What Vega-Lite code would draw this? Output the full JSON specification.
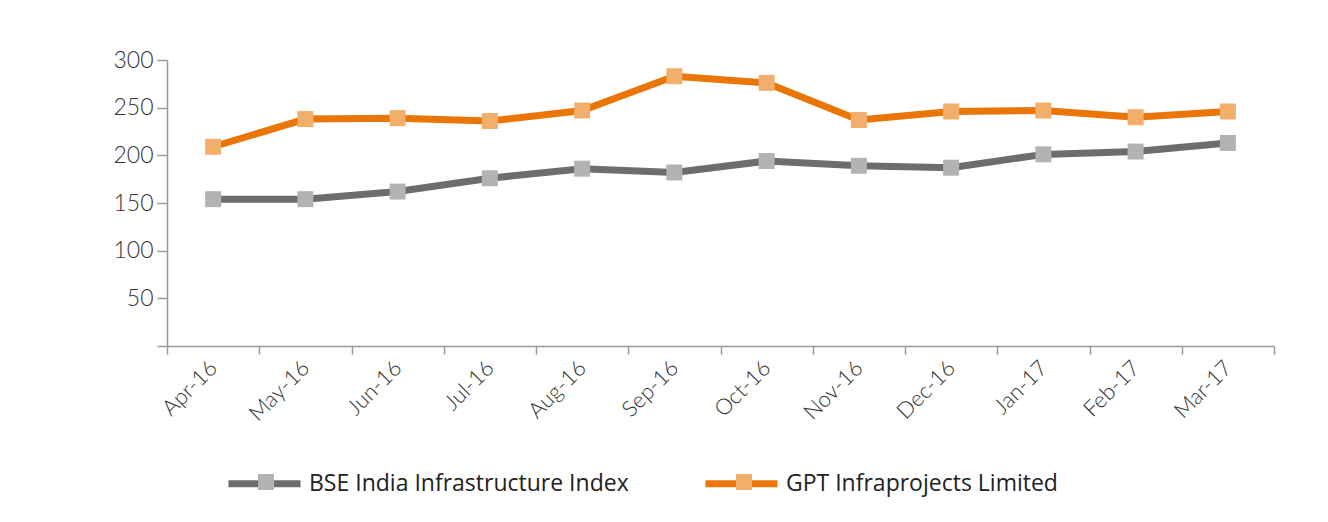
{
  "$schema": "https://vega.github.io/schema/vega-lite/v6.json",
  "width": 1107,
  "height": 286,
  "autosize": {"type": "none"},
  "padding": {"left": 167, "top": 60, "right": 54, "bottom": 176},
  "background": "white",
  "config": {"view": {"stroke": null}},
  "data": {
    "values": [
      {"month": "Apr-16", "series": "BSE India Infrastructure Index", "value": 154},
      {"month": "May-16", "series": "BSE India Infrastructure Index", "value": 154},
      {"month": "Jun-16", "series": "BSE India Infrastructure Index", "value": 162},
      {"month": "Jul-16", "series": "BSE India Infrastructure Index", "value": 176},
      {"month": "Aug-16", "series": "BSE India Infrastructure Index", "value": 186},
      {"month": "Sep-16", "series": "BSE India Infrastructure Index", "value": 182},
      {"month": "Oct-16", "series": "BSE India Infrastructure Index", "value": 194},
      {"month": "Nov-16", "series": "BSE India Infrastructure Index", "value": 189},
      {"month": "Dec-16", "series": "BSE India Infrastructure Index", "value": 187},
      {"month": "Jan-17", "series": "BSE India Infrastructure Index", "value": 201},
      {"month": "Feb-17", "series": "BSE India Infrastructure Index", "value": 204},
      {"month": "Mar-17", "series": "BSE India Infrastructure Index", "value": 213},
      {"month": "Apr-16", "series": "GPT Infraprojects Limited", "value": 209},
      {"month": "May-16", "series": "GPT Infraprojects Limited", "value": 238},
      {"month": "Jun-16", "series": "GPT Infraprojects Limited", "value": 239},
      {"month": "Jul-16", "series": "GPT Infraprojects Limited", "value": 236},
      {"month": "Aug-16", "series": "GPT Infraprojects Limited", "value": 247},
      {"month": "Sep-16", "series": "GPT Infraprojects Limited", "value": 283},
      {"month": "Oct-16", "series": "GPT Infraprojects Limited", "value": 276},
      {"month": "Nov-16", "series": "GPT Infraprojects Limited", "value": 237},
      {"month": "Dec-16", "series": "GPT Infraprojects Limited", "value": 246},
      {"month": "Jan-17", "series": "GPT Infraprojects Limited", "value": 247},
      {"month": "Feb-17", "series": "GPT Infraprojects Limited", "value": 240},
      {"month": "Mar-17", "series": "GPT Infraprojects Limited", "value": 246}
    ]
  },
  "encoding": {
    "x": {
      "field": "month",
      "type": "ordinal",
      "sort": null,
      "bandPosition": 0.5,
      "scale": {"type": "band", "paddingInner": 0, "paddingOuter": 0},
      "axis": {
        "title": null,
        "tickBand": "extent",
        "labelAngle": -45,
        "labelAlign": "right",
        "labelBaseline": "middle",
        "labelFont": "Lato",
        "labelFontWeight": 300,
        "labelFontSize": 22,
        "labelColor": "#333333",
        "labelPadding": 10,
        "domainColor": "#999999",
        "domainWidth": 1.5,
        "tickColor": "#999999",
        "tickWidth": 1.5,
        "tickSize": 8,
        "grid": false
      }
    },
    "y": {
      "field": "value",
      "type": "quantitative",
      "scale": {"domain": [0, 300], "nice": false},
      "axis": {
        "title": null,
        "values": [0, 50, 100, 150, 200, 250, 300],
        "labelExpr": "datum.value == 0 ? '' : datum.label",
        "labelFont": "Lato",
        "labelFontWeight": 300,
        "labelFontSize": 23,
        "labelColor": "#333333",
        "labelPadding": 4,
        "domainColor": "#999999",
        "domainWidth": 1.5,
        "tickColor": "#999999",
        "tickWidth": 1.5,
        "tickSize": 10,
        "grid": false
      }
    }
  },
  "layer": [
    {
      "mark": {"type": "line", "strokeWidth": 7},
      "encoding": {
        "color": {
          "field": "series",
          "type": "nominal",
          "scale": {"domain": ["BSE India Infrastructure Index", "GPT Infraprojects Limited"], "range": ["#6d6d6d", "#ea7607"]},
          "legend": {
            "title": null,
            "orient": "none",
            "direction": "horizontal",
            "legendX": 58,
            "legendY": 384,
            "symbolType": "stroke",
            "symbolSize": 5184,
            "symbolStrokeWidth": 7,
            "labelFont": "Open Sans",
            "labelFontSize": 23,
            "labelColor": "#222222",
            "labelLimit": 0,
            "labelOffset": 5,
            "columnPadding": 62
          }
        }
      }
    },
    {
      "mark": {"type": "square", "size": 256, "opacity": 1, "filled": true},
      "encoding": {
        "fill": {
          "field": "series",
          "type": "nominal",
          "scale": {"domain": ["BSE India Infrastructure Index", "GPT Infraprojects Limited"], "range": ["#b3b3b3", "#f2ae6b"]},
          "legend": {
            "title": null,
            "orient": "none",
            "direction": "horizontal",
            "legendX": 89,
            "legendY": 412,
            "symbolType": "square",
            "symbolSize": 256,
            "symbolOpacity": 1,
            "symbolStrokeWidth": 0,
            "labelExpr": "''",
            "labelFontSize": 20,
            "labelLimit": 0,
            "labelOffset": 0,
            "columnPadding": 458
          }
        }
      }
    }
  ],
  "resolve": {"scale": {"color": "independent", "fill": "independent"}}
}
